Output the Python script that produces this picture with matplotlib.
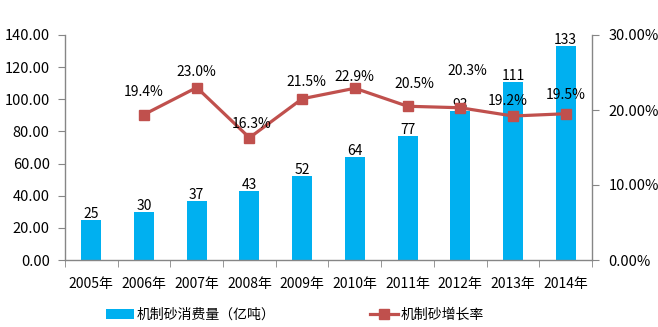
import matplotlib
matplotlib.use("Agg")
import matplotlib.pyplot as plt
from matplotlib.ticker import FixedLocator, FuncFormatter
from matplotlib.patches import Patch
from matplotlib.lines import Line2D

plt.rcParams['font.family'] = ['Noto Sans CJK SC', 'DejaVu Sans']

years = ["2005年", "2006年", "2007年", "2008年", "2009年", "2010年", "2011年", "2012年", "2013年", "2014年"]
consumption = [25, 30, 37, 43, 52, 64, 77, 93, 111, 133]
growth_years_idx = [1, 2, 3, 4, 5, 6, 7, 8, 9]
growth = [19.4, 23.0, 16.3, 21.5, 22.9, 20.5, 20.3, 19.2, 19.5]
growth_labels = ["19.4%", "23.0%", "16.3%", "21.5%", "22.9%", "20.5%", "20.3%", "19.2%", "19.5%"]
# label offsets in pixels (dx, dy) of the text visual centre
label_offsets = [(0, 24), (0, 16), (2, 15), (4, 18), (0, 12), (7, 23), (7, 38), (-5, 16), (0, 20)]

bar_color = "#00B0F0"
line_color = "#C0504D"
axis_color = "#868686"
fs = 10
half_cap = 5  # px

fig = plt.figure(figsize=(6.58, 3.27), dpi=100)
ax = fig.add_axes([65/658, 1-260/327, (592-65)/658, (260-35)/327])
ax2 = ax.twinx()

x = list(range(len(years)))
ax.bar(x, consumption, width=0.38, color=bar_color, zorder=2)
for xi, v in zip(x, consumption):
    ax.annotate(str(v), (xi, v), xytext=(0, 2*0.72), textcoords='offset points',
                ha='center', va='baseline', fontsize=fs, color='black')

ax2.plot(growth_years_idx, growth, color=line_color, lw=2.3, marker='s', markersize=7,
         markerfacecolor=line_color, markeredgecolor=line_color, zorder=3)
for xi, v, lab, (dx, dy) in zip(growth_years_idx, growth, growth_labels, label_offsets):
    ax2.annotate(lab, (xi, v), xytext=(dx*0.72, (dy - half_cap)*0.72), textcoords='offset points',
                 ha='center', va='baseline', fontsize=fs, color='black')

ax.set_xlim(-0.5, len(years)-0.5)
ax.set_ylim(0, 140)
ax2.set_ylim(0, 30)

ax.set_xticks(x)
ax.set_xticklabels(years, fontsize=fs)
ax.tick_params(axis='x', which='major', length=0, pad=12)
ax.xaxis.set_minor_locator(FixedLocator([i - 0.5 for i in range(len(years)+1)]))
ax.tick_params(axis='x', which='minor', length=5, color=axis_color, direction='out')

ax.set_yticks([0, 20, 40, 60, 80, 100, 120, 140])
ax.yaxis.set_major_formatter(FuncFormatter(lambda v, p: f"{v:.2f}"))
ax.tick_params(axis='y', length=5, color=axis_color, labelsize=10.5, pad=6)

ax2.set_yticks([0, 10, 20, 30])
ax2.yaxis.set_major_formatter(FuncFormatter(lambda v, p: f"{v:.2f}%"))
ax2.tick_params(axis='y', length=5, color=axis_color, labelsize=10.5, pad=7)

for a in (ax, ax2):
    a.spines['top'].set_visible(False)
    for s in ('left', 'right', 'bottom'):
        a.spines[s].set_color(axis_color)
        a.spines[s].set_linewidth(1.0)
ax.spines['right'].set_visible(False)
ax2.spines['left'].set_visible(False)
ax2.spines['bottom'].set_visible(False)

handles = [Patch(facecolor=bar_color, edgecolor='none'),
           Line2D([0], [0], color=line_color, lw=2.3, marker='s', markersize=7)]
labels = ["机制砂消费量（亿吨）", "机制砂增长率"]
fig.legend(handles, labels, loc='center', bbox_to_anchor=(295/658, 1-315/327), ncol=2,
           frameon=False, fontsize=fs, handlelength=2.0, handletextpad=0.2,
           columnspacing=6.8, borderpad=0)

fig.savefig("out.png", dpi=100)
